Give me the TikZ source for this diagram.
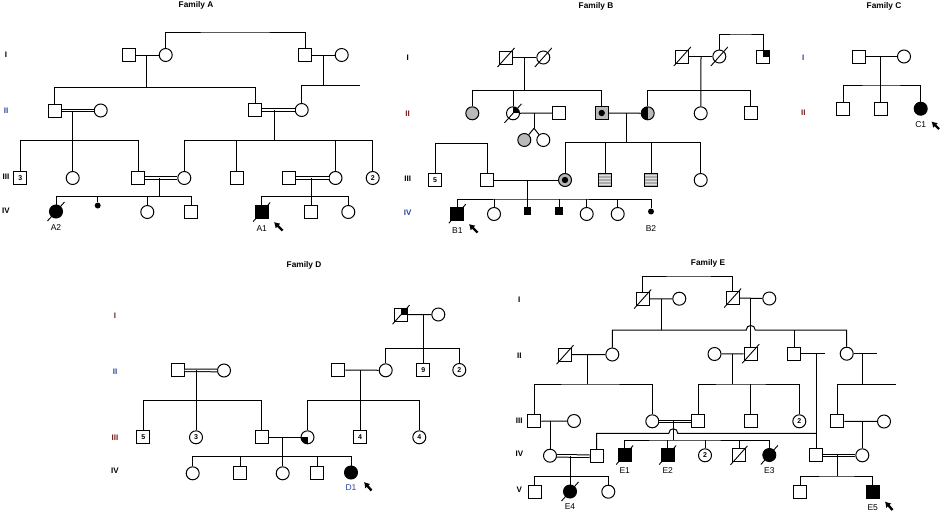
\documentclass[tikz,border=0pt]{standalone}
\usepackage{fontspec}
\setmainfont{Liberation Sans}
\usetikzlibrary{positioning, calc, arrows.meta}

\definecolor{genblue}{RGB}{40,70,160}
\definecolor{genred}{RGB}{120,30,30}

\newcommand{\deceased}[1]{\draw[line width=0.9pt] ($(#1.center)+(-8.5,9.5)$) -- ($(#1.center)+(8.5,-9.5)$);}

\begin{document}
\begin{tikzpicture}[x=1pt, y=-1pt, line width=1pt]

\tikzstyle{male} = [rectangle, draw=black, minimum size=13pt, inner sep=0pt, font=\fontsize{7}{7}\selectfont\bfseries]
\tikzstyle{female} = [circle, draw=black, minimum size=13pt, inner sep=0pt, font=\fontsize{7}{7}\selectfont\bfseries]
\tikzstyle{aff} = [fill=black]
\tikzstyle{greyed} = [fill=gray!55]
\tikzstyle{bullet} = [circle, fill=black, minimum size=6pt, inner sep=0pt]
\tikzstyle{sbox} = [rectangle, fill=black, minimum size=7.5pt, inner sep=0pt]
\tikzstyle{dbl} = [double, double distance=1.6pt, line width=1pt]
\tikzstyle{arrow} = [-{Latex[length=5.5pt,width=7pt]}, line width=2.4pt]
\tikzstyle{gen} = [font=\fontsize{8}{8}\selectfont\bfseries]
\tikzstyle{title} = [font=\fontsize{8.3}{8.3}\selectfont\bfseries]
\tikzstyle{lab} = [font=\fontsize{8.5}{9}\selectfont, inner sep=1pt]
\tikzstyle{qne} = [path picture={\fill[black] (path picture bounding box.center) rectangle (path picture bounding box.north east);}]
\tikzstyle{qsw} = [path picture={\fill[black] (path picture bounding box.center) rectangle (path picture bounding box.south west);}]
\tikzstyle{cdot} = [path picture={\fill[black] (path picture bounding box.center) circle (3.2pt);}]
\tikzstyle{halfbw} = [path picture={\fill[gray!55] (path picture bounding box.south) rectangle (path picture bounding box.north east); \fill[black] (path picture bounding box.south west) rectangle (path picture bounding box.north);}]
\tikzstyle{lined} = [fill=gray!65, path picture={\foreach \k in {-4.5,-1.5,1.5,4.5} \draw[gray!25, line width=0.6pt] ($(path picture bounding box.center)+(-8,\k)$) -- ++(16,0);}]

\useasboundingbox (0,0) rectangle (941,514);

% Family A
\node[title] (TA) at (196,5) {Family A};
\node[gen] (AgI) at (6,55) {I};
\node[gen, genblue] (AgII) at (6,111) {II};
\node[gen] (AgIII) at (6,177) {III};
\node[gen] (AgIV) at (6,211) {IV};

\node[male] (A1a) at (128.7,55) {};
\node[female] (A1b) at (165.7,55) {};
\node[male] (A1c) at (305,55) {};
\node[female] (A1d) at (341.7,55) {};
\node[male] (A2a) at (54.7,110.5) {};
\node[female] (A2b) at (100.7,110.5) {};
\node[male] (A2c) at (255.3,110) {};
\node[female] (A2d) at (301.7,110) {};
\node[male] (A3a) at (20.3,178) {3};
\node[female] (A3b) at (72.7,178) {};
\node[male] (A3c) at (138.3,178) {};
\node[female] (A3d) at (184.3,178) {};
\node[male] (A3e) at (236.7,178) {};
\node[male] (A3f) at (289,178) {};
\node[female] (A3g) at (335.5,178) {};
\node[female] (A3h) at (372.7,178) {2};
\node[female, aff] (A4a) at (56,211.5) {};
\node[bullet] (A4b) at (97.7,205.5) {};
\node[female] (A4c) at (147.3,212) {};
\node[male] (A4d) at (191,212) {};
\node[male, aff] (A4e) at (261.7,212) {};
\node[male] (A4f) at (311,212) {};
\node[female] (A4g) at (348.3,212) {};

\coordinate (Atop) at (235,32);
\coordinate (Ad1) at (146.7,87.5);
\coordinate (Ad2) at (323.3,85);
\coordinate (Aend) at (360,85);
\coordinate (Ad3) at (72.7,140.7);
\coordinate (Ad4) at (274,140.7);
\coordinate (Ad5) at (159.3,196.7);
\coordinate (Ad6) at (311,196.5);

\draw (A1a) -- (A1b);
\draw (A1c) -- (A1d);
\draw (A1b) |- (Atop) -| (A1c);
\draw (Ad1 |- A1a) -- (Ad1);
\draw (A2a) |- (Ad1) -| (A2c);
\draw (Ad2 |- A1c) -- (Ad2);
\draw (A2d) |- (Aend);
\draw[dbl] (A2a) -- (A2b);
\draw[dbl] (A2c) -- (A2d);
\draw (Ad3 |- A2a) -- (A3b);
\draw (A3a) |- (Ad3) -| (A3c);
\draw (Ad4 |- A2c) -- (Ad4);
\draw (A3d) |- (Ad4) -| (A3h);
\draw (A3e) -- (A3e |- Ad4);
\draw (A3g) -- (A3g |- Ad4);
\draw[dbl] (A3c) -- (A3d);
\draw[dbl] (A3f) -- (A3g);
\draw (Ad5 |- A3c) -- (Ad5);
\draw (A4a) |- (Ad5) -| (A4d);
\draw (A4b) -- (A4b |- Ad5);
\draw (A4c) -- (A4c |- Ad5);
\draw (Ad6 |- A3f) -- (A4f);
\draw (A4e) |- (Ad6) -| (A4g);
\deceased{A4a}
\deceased{A4e}
\node[lab, below=5pt of A4a] (A2lbl) {A2};
\node[lab, below=5pt of A4e] (A1lbl) {A1};
\coordinate (A1arr) at (282.5,230.5);
\draw[arrow] (A1arr) -- ++(-8.5,-8.5);

% Family B
\node[title] (TB) at (596,6) {Family B};
\node[gen] (BgI) at (407.7,58) {I};
\node[gen, genred] (BgII) at (407.7,114) {II};
\node[gen] (BgIII) at (407.7,179) {III};
\node[gen, genblue] (BgIV) at (407.7,213) {IV};

\node[male] (B1a) at (506,57.5) {};
\node[female] (B1b) at (543.3,57.5) {};
\node[male] (B1c) at (682.3,56.5) {};
\node[female] (B1d) at (719.3,56.5) {};
\node[male, qne] (B1e) at (763,56.5) {};
\node[female, greyed] (B2a) at (472.3,113.3) {};
\node[female, qne] (B2b) at (513,113.3) {};
\node[male] (B2c) at (559,113) {};
\node[male, greyed, cdot] (B2d) at (601.7,113) {};
\node[female, halfbw] (B2e) at (647.7,113.3) {};
\node[female] (B2f) at (700.7,113.3) {};
\node[male] (B2g) at (750.7,113) {};
\node[female, greyed] (B2h) at (524.3,140) {};
\node[female] (B2i) at (543.3,140) {};
\node[male] (B3a) at (435,180) {5};
\node[male] (B3b) at (487.3,180) {};
\node[female, greyed, cdot] (B3c) at (565,180) {};
\node[male, lined] (B3d) at (605,180) {};
\node[male, lined] (B3e) at (651,180) {};
\node[female] (B3f) at (700.7,180) {};
\node[male, aff] (B4a) at (457.3,213.7) {};
\node[female] (B4b) at (494,214) {};
\node[sbox] (B4c) at (527.7,211) {};
\node[sbox] (B4d) at (559,211) {};
\node[female] (B4e) at (586.7,214) {};
\node[female] (B4f) at (617.7,214) {};
\node[bullet] (B4g) at (651,211.5) {};

\coordinate (Btop) at (740,34);
\coordinate (Bd1) at (524.3,90.7);
\coordinate (Bd2) at (701,90.5);
\coordinate (Bd3) at (534,128.3);
\coordinate (Bd4) at (626.7,142.7);
\coordinate (Bd5) at (461,143.3);
\coordinate (Bd6) at (527.7,199);

\draw (B1a) -- (B1b);
\draw (B1c) -- (B1d);
\draw (B1d) |- (Btop) -| (B1e);
\draw (Bd1 |- B1a) -- (Bd1);
\draw (B2a) |- (Bd1) -| (B2d);
\draw (B2b) -- (B2b |- Bd1);
\draw (Bd2 |- B1c) -- (B2f);
\draw (B2e) |- (Bd2) -| (B2g);
\draw (B2b) -- (B2c);
\draw (Bd3 |- B2b) -- (Bd3);
\draw (Bd3) -- (B2h);
\draw (Bd3) -- (B2i);
\draw (B2d) -- (B2e);
\draw (Bd4 |- B2d) -- (Bd4);
\draw (B3c) |- (Bd4) -| (B3f);
\draw (B3d) -- (B3d |- Bd4);
\draw (B3e) -- (B3e |- Bd4);
\draw (B3a) |- (Bd5) -| (B3b);
\draw (B3b) -- (B3c);
\draw (Bd6 |- B3b) -- (B4c);
\draw (B4a) |- (Bd6) -| (B4g);
\draw (B4b) -- (B4b |- Bd6);
\draw (B4d) -- (B4d |- Bd6);
\draw (B4e) -- (B4e |- Bd6);
\draw (B4f) -- (B4f |- Bd6);
\deceased{B1a}
\deceased{B1b}
\deceased{B1c}
\deceased{B1d}
\deceased{B2b}
\deceased{B4a}
\node[lab, below=5pt of B4a] (B1lbl) {B1};
\node[lab, below=9pt of B4g] (B2lbl) {B2};
\coordinate (B1arr) at (477.5,232.5);
\draw[arrow] (B1arr) -- ++(-8.5,-8.5);

% Family C
\node[title] (TC) at (884,6) {Family C};
\node[gen, genblue] (CgI) at (803.3,58) {I};
\node[gen, genred] (CgII) at (803.3,113) {II};

\node[male] (C1a) at (859.3,56.5) {};
\node[female] (C1b) at (904,56.5) {};
\node[male] (C2a) at (843.3,108.7) {};
\node[male] (C2b) at (880.7,108.7) {};
\node[female, aff] (C2c) at (920.7,108.7) {};

\coordinate (Cd1) at (880.7,85);
\draw (C1a) -- (C1b);
\draw (Cd1 |- C1a) -- (C2b);
\draw (C2a) |- (Cd1) -| (C2c);
\node[lab, below=4pt of C2c] (C1lbl) {C1};
\coordinate (C1arr) at (939,129);
\draw[arrow] (C1arr) -- ++(-7.5,-7.5);

% Family D
\node[title] (TD) at (304,265) {Family D};
\node[gen, genred] (DgI) at (115,316) {I};
\node[gen, genblue] (DgII) at (115,372) {II};
\node[gen, genred] (DgIII) at (115,437.3) {III};
\node[gen] (DgIV) at (115,471) {IV};

\node[male, qne] (D1a) at (401,314.7) {};
\node[female] (D1b) at (438.3,314.5) {};
\node[male] (D2a) at (177.7,370.3) {};
\node[female] (D2b) at (224,370.5) {};
\node[male] (D2c) at (338.3,370) {};
\node[female] (D2d) at (385.7,370.3) {};
\node[male] (D2e) at (423.3,370) {9};
\node[female] (D2f) at (459.3,370) {2};
\node[male] (D3a) at (143.3,437.3) {5};
\node[female] (D3b) at (196,437.3) {3};
\node[male] (D3c) at (261.7,437.3) {};
\node[female, qsw] (D3d) at (307.5,437.3) {};
\node[male] (D3e) at (360,437.3) {4};
\node[female] (D3f) at (419.3,437.3) {4};
\node[female] (D4a) at (192.7,473.3) {};
\node[male] (D4b) at (240,473.3) {};
\node[female] (D4c) at (282.7,473.3) {};
\node[male] (D4d) at (317.3,473.3) {};
\node[female, aff] (D4e) at (351,472.5) {};

\coordinate (Dd1) at (423.3,348.3);
\coordinate (Dd2) at (196,400.7);
\coordinate (Dd3) at (360,400.7);
\coordinate (Dd4) at (282.7,456.7);

\draw (D1a) -- (D1b);
\draw (Dd1 |- D1a) -- (D2e);
\draw (D2d) |- (Dd1) -| (D2f);
\draw[dbl] (D2a) -- (D2b);
\draw (Dd2 |- D2a) -- (D3b);
\draw (D3a) |- (Dd2) -| (D3c);
\draw (D2c) -- (D2d);
\draw (Dd3 |- D2c) -- (D3e);
\draw (D3d) |- (Dd3) -| (D3f);
\draw (D3c) -- (D3d);
\draw (Dd4 |- D3c) -- (D4c);
\draw (D4a) |- (Dd4) -| (D4e);
\draw (D4b) -- (D4b |- Dd4);
\draw (D4d) -- (D4d |- Dd4);
\deceased{D1a}
\node[lab, genblue, below=4pt of D4e] (D1lbl) {D1};
\coordinate (D1arr) at (371.5,490.5);
\draw[arrow] (D1arr) -- ++(-7.5,-8.5);

% Family E
\node[title] (TE) at (708,263) {Family E};
\node[gen] (EgI) at (519.3,300) {I};
\node[gen] (EgII) at (519.3,355.3) {II};
\node[gen] (EgIII) at (519.3,420.7) {III};
\node[gen] (EgIV) at (519.3,454) {IV};
\node[gen] (EgV) at (519.3,490) {V};

\node[male] (E1a) at (642.7,299) {};
\node[female] (E1b) at (679.3,298.7) {};
\node[male] (E1c) at (732.7,298) {};
\node[female] (E1d) at (769.3,298.5) {};
\node[male] (E2a) at (565,354.7) {};
\node[female] (E2b) at (612.3,354.5) {};
\node[female] (E2c) at (714.5,354) {};
\node[male] (E2d) at (750.7,353.7) {};
\node[male] (E2e) at (794,353.5) {};
\node[female] (E2f) at (846.7,353.7) {};
\node[male] (E3a) at (534.3,421.3) {};
\node[female] (E3b) at (574,421) {};
\node[female] (E3c) at (652.3,421.3) {};
\node[male] (E3d) at (698.3,421.3) {};
\node[male] (E3e) at (750.7,421.3) {};
\node[female] (E3f) at (799.3,421.3) {2};
\node[male] (E3g) at (837.3,421.3) {};
\node[female] (E3h) at (884,421.5) {};
\node[female] (E4a) at (550,455.7) {};
\node[male] (E4b) at (596.7,456.3) {};
\node[male, aff] (E4c) at (624.7,455) {};
\node[male, aff] (E4d) at (667.7,455) {};
\node[female] (E4e) at (705,455.3) {2};
\node[male] (E4f) at (739,455.3) {};
\node[female, aff] (E4g) at (769.3,455) {};
\node[male] (E4h) at (816,455.3) {};
\node[female] (E4i) at (862.3,455.3) {};
\node[male] (E5a) at (534.7,492) {};
\node[female, aff] (E5b) at (570,491.5) {};
\node[female] (E5c) at (608.3,491.7) {};
\node[male] (E5d) at (800,491.7) {};
\node[male, aff] (E5e) at (872.7,491.7) {};

\coordinate (Etop) at (690,276);
\coordinate (Ed1) at (661,330);
\coordinate (Ed3) at (587.3,384);
\coordinate (Ed4) at (732.7,384);
\coordinate (Ed5) at (862.3,384);
\coordinate (Eend) at (896,384);
\coordinate (Emate1) at (825,353.5);
\coordinate (Emate2) at (876.7,353.7);
\coordinate (Ed6) at (816,433.3);
\coordinate (Ed7) at (673.3,440);
\coordinate (Ed8) at (550,421.3);
\coordinate (Ed9) at (862.3,421.5);
\coordinate (Ed10) at (570,476.7);
\coordinate (Ed11) at (837.3,476);

\draw (E1a) -- (E1b);
\draw (E1c) -- (E1d);
\draw (E1a) |- (Etop) -| (E1c);
\draw (Ed1 |- E1a) -- (Ed1);
\draw (E2b) |- (Ed1) -- ($(E2d |- Ed1)+(-4.5,0)$) .. controls +(0,-6) and +(0,-6) .. ($(E2d |- Ed1)+(4.5,0)$) -| (E2f);
\draw (E2e) -- (E2e |- Ed1);
\draw (E2d |- E1c) -- (E2d);
\draw (E2a) -- (E2b);
\draw (Ed3 |- E2a) -- (Ed3);
\draw (E3a) |- (Ed3) -| (E3c);
\draw (E2c) -- (E2d);
\draw (Ed4 |- E2c) -- (Ed4);
\draw (E3d) |- (Ed4) -| (E3f);
\draw (E3e) -- (E3e |- Ed4);
\draw (E2e) -- (Emate1);
\draw (E2f) -- (Emate2);
\draw (Ed5 |- E2f) -- (Ed5);
\draw (E3g) |- (Eend);
\draw (Ed6 |- E2e) -- (E4h);
\draw (E4b) |- ($(Ed7 |- Ed6)+(-4.5,0)$) .. controls +(0,-6) and +(0,-6) .. ($(Ed7 |- Ed6)+(4.5,0)$) -- (Ed6);
\draw (E3a) -- (E3b);
\draw (Ed8) -- (E4a);
\draw[dbl] (E3c) -- (E3d);
\draw (Ed7 |- E3c) -- (Ed7);
\draw (E4c) |- (Ed7) -| (E4g);
\draw (E4d) -- (E4d |- Ed7);
\draw (E4e) -- (E4e |- Ed7);
\draw (E4f) -- (E4f |- Ed7);
\draw (E3g) -- (E3h);
\draw (Ed9) -- (E4i);
\draw[dbl] (E4a) -- (E4b);
\draw (Ed10 |- E4a) -- (E5b);
\draw (E5a) |- (Ed10) -| (E5c);
\draw[dbl] (E4h) -- (E4i);
\draw (Ed11 |- E4h) -- (Ed11);
\draw (E5d) |- (Ed11) -| (E5e);
\deceased{E1a}
\deceased{E1c}
\deceased{E2a}
\deceased{E2d}
\deceased{E4c}
\deceased{E4d}
\deceased{E4f}
\deceased{E4g}
\deceased{E5b}
\node[lab, below=4pt of E4c] (E1lbl) {E1};
\node[lab, below=4pt of E4d] (E2lbl) {E2};
\node[lab, below=4pt of E4g] (E3lbl) {E3};
\node[lab, below=4pt of E5b] (E4lbl) {E4};
\node[lab, below=4pt of E5e] (E5lbl) {E5};
\coordinate (E5arr) at (892.5,510);
\draw[arrow] (E5arr) -- ++(-7.5,-8.5);

\end{tikzpicture}
\end{document}
